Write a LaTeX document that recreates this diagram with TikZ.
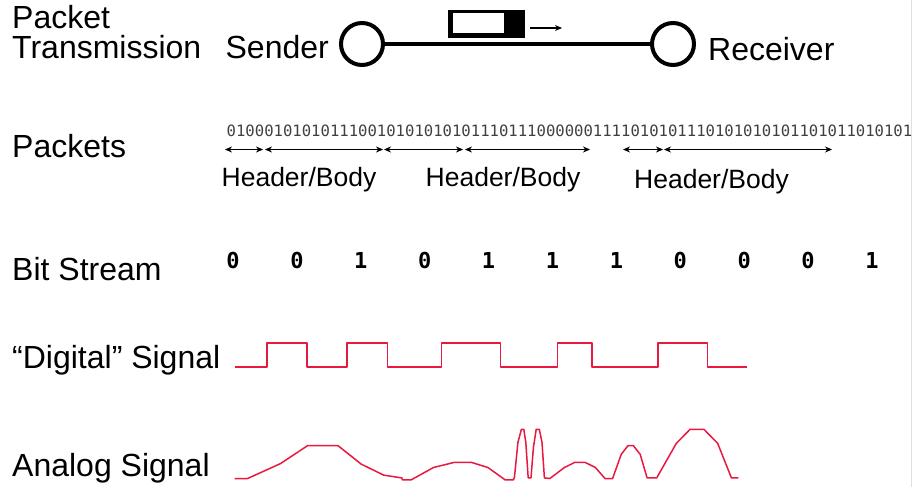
\documentclass[tikz,border=0pt]{standalone}
\usepackage{fontspec}
\setmainfont{Liberation Sans}
\newfontfamily\bitfont{DejaVu Sans Mono}
\usetikzlibrary{arrows.meta}
\definecolor{sigred}{RGB}{232,24,62}
\tikzset{
  rowlabel/.style={anchor=base west,inner sep=0pt,font=\fontsize{32}{34}\selectfont},
  host/.style={draw,circle,line width=4pt,minimum size=42pt,inner sep=0pt},
  partlabel/.style={anchor=base,inner sep=0pt,font=\fontsize{26.5}{28}\selectfont},
  bitdigit/.style={anchor=base,inner sep=0pt,font=\bitfont\bfseries\fontsize{22}{24}\selectfont},
  span/.style={{Stealth[length=7pt,width=6pt]}-{Stealth[length=7pt,width=6pt]},line width=0.8pt},
  sig/.style={sigred,line width=1.5pt,line join=round}
}
\begin{document}
\begin{tikzpicture}[x=1pt,y=-1pt]
  \useasboundingbox (0,0) rectangle (913,487);
  \draw[gray!25] (911.5,0) -- (911.5,487);

  % row labels
  \node[rowlabel] (pt1) at (12,29) {Packet};
  \node[rowlabel] (pt2) at (12,59) {Transmission};
  \node[rowlabel] (pk) at (12,157) {Packets};
  \node[rowlabel] (bs) at (12,280) {Bit Stream};
  \node[rowlabel] (ds) at (12,368) {``Digital'' Signal};
  \node[rowlabel] (as) at (12,476) {Analog Signal};

  % sender and receiver
  \node[host] (sender) at (362,44) {};
  \node[host] (receiver) at (673,44) {};
  \draw[line width=4pt] (sender) -- (receiver);
  \node[rowlabel,anchor=base east] (snd) at (329,59) {Sender};
  \node[rowlabel] (rcv) at (708,60) {Receiver};
  \fill (448,10) rectangle (525,38);
  \fill[white] (453,13.5) rectangle (504,33.5);
  \coordinate (mv1) at (530,28);
  \coordinate (mv2) at (562,28);
  \draw[-{Stealth[length=7pt,width=6pt]},line width=1.3pt] (mv1) -- (mv2);

  % packets
  \node[anchor=base west,inner sep=0pt,text=black!75,font=\bitfont\fontsize{15.6}{17}\selectfont] (bits) at (226.5,136)
    {0100010101011100101010101011101110000001111010101110101010101101011010101};
  \foreach \a/\b [count=\i] in {225/263,265/383,384/463,465/590,623/663,664/832} {
    \coordinate (s\i) at (\a,149.5);
    \coordinate (e\i) at (\b,149.5);
    \draw[span] (s\i) -- (e\i);
  }
  \node[partlabel] (hb1) at (299,186) {Header/Body};
  \node[partlabel] (hb2) at (503,186) {Header/Body};
  \node[partlabel] (hb3) at (711.5,188) {Header/Body};

  % bit stream
  \foreach \b [count=\i from 0] in {0,0,1,0,1,1,1,0,0,0,1}
    \node[bitdigit] (b\i) at (233+63.9*\i,268) {\b};

  % signals
  \draw[sig] (234.5,367) -- (267,367) -- (267,343) -- (307,343) -- (307,367) -- (347,367)
    -- (347,343) -- (387.5,343) -- (387.5,367) -- (441.5,367) -- (441.5,343) -- (500.5,343)
    -- (500.5,367) -- (557.5,367) -- (557.5,343) -- (592,343) -- (592,367) -- (658,367)
    -- (658,343) -- (707.5,343) -- (707.5,367) -- (747,367);
  \draw[sig] plot coordinates {(234.5,478.5) (247.6,478.5) (280.3,463.7) (307.8,445.5) (337.8,445.5)
    (361.2,464.1) (383.6,475.1) (401.8,477.9) (402.5,479.9) (411.1,479.9) (433.5,467.5) (454.2,462.4)
    (471.4,462.4) (487.9,467.5) (505.2,479.9) (513.4,479.9) (514.5,476.8) (517.9,442.4) (521.4,429.3)
    (523.8,429.3) (525.8,442.4) (528.2,477.9) (531,477.9) (533.4,447.6) (536.2,429.3) (539.3,429.3)
    (542,442.4) (544.4,477.9) (549.9,478.5) (564.4,467.5) (574.7,462.4) (585.1,462.4) (595.4,467.5)
    (605,478.5) (612.6,478.5) (621.2,454.4) (628.1,445.5) (633.3,445.5) (640.2,454.4) (647.1,477.9)
    (656.7,477.9) (676.3,443.4) (690.1,429.3) (703.9,429.3) (717.7,443.4) (731.4,477.9) (738.3,477.9)};
\end{tikzpicture}
\end{document}
